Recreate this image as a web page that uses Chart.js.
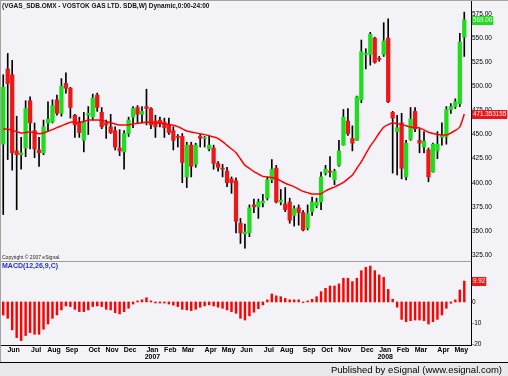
<!DOCTYPE html>
<html>
<head>
<meta charset="utf-8">
<script src="https://cdn.jsdelivr.net/npm/chart.js@4.4.1/dist/chart.umd.min.js"></script>
<style>
  html, body { margin: 0; padding: 0; background: #f3f2f6; }
  #wrap { position: relative; width: 508px; height: 376px; overflow: hidden; background: #f3f2f6; }
  #chart { position: absolute; left: 0; top: 0; }
  #frame { position: absolute; left: 0; top: 0; width: 507px; height: 361px; border-top: 1px solid #a4a4a4; border-left: 1px solid #a4a4a4; pointer-events: none; }
  .txt { position: absolute; font-family: "Liberation Sans", Arial, sans-serif; white-space: nowrap; }
  #title { left: 2px; top: 2px; font-size: 6.5px; font-weight: bold; color: #111; }
  #copy { left: 2px; top: 254px; font-size: 5px; color: #222; }
  #macdLbl { left: 2px; top: 262px; font-size: 7px; font-weight: bold; color: #2030e0; }
  #footer { position: absolute; left: 0; top: 362px; width: 508px; height: 14px; border-top: 1px solid #000; background: #e8e8ea; }
  #footer span { right: 6px; top: 1px; font-size: 9.5px; color: #000; }
</style>
</head>
<body>
<div id="wrap">
  <canvas id="chart" width="508" height="362"></canvas>
  <div id="frame"></div>
  <div class="txt" id="title">(VGAS_SDB.OMX - VOSTOK GAS LTD. SDB,W) Dynamic,0:00-24:00</div>
  <div class="txt" id="copy">Copyright © 2007 eSignal.</div>
  <div class="txt" id="macdLbl">MACD(12,26,9,C)</div>
  <div id="footer"><span class="txt">Published by eSignal (www.esignal.com)</span></div>
</div>
<script>
// ===== weekly candles, May 2006 - May 2008 =====
const open = [
  440, 518, 512, 433, 429, 436, 485, 454, 434, 431,
  462, 463, 486, 472, 503, 498, 470, 463, 444, 470,
  468, 491, 473, 462, 458, 454, 436, 432, 451, 468,
  478, 471, 479, 477, 464, 465, 463, 460, 454, 448,
  448, 406, 439, 419, 448, 446, 435, 436, 420, 415,
  412, 404, 402, 358, 347, 348, 377, 375, 379, 384,
  403, 415, 380, 378, 380, 366, 374, 369, 353, 370,
  376, 380, 410, 412, 403, 418, 439, 464, 446, 444,
  486, 533, 533, 550, 529, 533, 550, 473, 453, 462,
  406, 445, 474, 444, 437, 434, 411, 433, 447, 448,
  476, 479, 482, 551
];
const high = [
  512, 534, 527, 469, 447, 485, 489, 462, 447, 465,
  484, 486, 491, 508, 514, 499, 471, 468, 473, 479,
  492, 493, 478, 465, 471, 458, 455, 454, 468, 479,
  480, 479, 497, 478, 470, 468, 467, 467, 458, 450,
  451, 442, 442, 441, 450, 448, 448, 439, 422, 419,
  416, 406, 405, 363, 357, 377, 383, 383, 388, 406,
  424, 418, 393, 395, 384, 376, 377, 371, 377, 385,
  384, 411, 418, 427, 414, 444, 476, 477, 459, 490,
  548, 539, 556, 551, 531, 566, 570, 474, 470, 472,
  444, 478, 478, 456, 453, 436, 441, 453, 462, 479,
  482, 487, 555, 577
];
const low = [
  367, 424, 413, 372, 414, 427, 435, 426, 417, 429,
  453, 462, 470, 469, 493, 467, 447, 447, 432, 450,
  465, 474, 456, 446, 451, 434, 428, 414, 448, 457,
  462, 462, 460, 456, 447, 458, 447, 450, 434, 437,
  400, 395, 406, 416, 437, 437, 433, 414, 412, 406,
  396, 389, 348, 337, 332, 344, 369, 363, 375, 382,
  400, 379, 377, 370, 358, 355, 356, 350, 351, 366,
  374, 372, 408, 406, 398, 417, 439, 449, 433, 444,
  483, 518, 522, 524, 526, 531, 483, 410, 408, 404,
  403, 444, 453, 431, 431, 401, 411, 425, 439, 440,
  472, 477, 479, 531
];
const close = [
  499, 503, 431, 429, 431, 477, 462, 435, 431, 458,
  466, 480, 472, 500, 498, 478, 460, 452, 463, 472,
  488, 478, 458, 460, 452, 437, 433, 451, 465, 477,
  471, 474, 477, 460, 458, 462, 457, 452, 444, 447,
  421, 439, 417, 439, 446, 447, 439, 420, 416, 414,
  400, 400, 360, 348, 349, 374, 375, 380, 381, 403,
  414, 380, 382, 372, 361, 373, 369, 351, 368, 380,
  380, 406, 414, 411, 412, 433, 468, 451, 441, 489,
  536, 534, 554, 525, 528, 547, 484, 467, 457, 415,
  441, 466, 456, 441, 443, 406, 440, 440, 449, 476,
  479, 484, 546, 569
];
// moving average (red line)
const ma = [
  455.7, 455.5, 454.3, 452.9, 451.6, 452.1, 452.6, 451.9, 450.9, 451.6,
  453.4, 455.1, 457.1, 459.0, 460.9, 462.8, 462.8, 462.5, 463.6, 465.0,
  465.0, 465.0, 464.8, 463.5, 462.3, 460.9, 459.9, 459.9, 459.9, 460.8,
  461.7, 462.2, 462.8, 462.6, 462.1, 461.6, 461.2, 460.5, 459.6, 458.2,
  455.9, 453.6, 452.7, 451.7, 450.7, 449.9, 448.8, 447.5, 445.9, 442.6,
  438.7, 435.0, 431.2, 424.6, 418.1, 414.8, 411.5, 409.0, 406.6, 405.9,
  405.5, 404.3, 402.0, 399.4, 397.6, 395.7, 393.3, 391.0, 389.7, 388.4,
  388.3, 388.5, 391.5, 393.7, 395.5, 397.9, 400.4, 404.0, 408.0, 415.0,
  421.9, 430.0, 438.0, 444.5, 451.6, 457.6, 460.3, 461.9, 461.3, 460.4,
  459.0, 457.7, 457.3, 456.8, 454.8, 452.4, 451.0, 450.0, 449.5, 449.5,
  451.6, 454.2, 457.8, 471.353155
];
// MACD(12,26,9) histogram
const macd = [
  -6.2, -7.8, -13.3, -17, -18.4, -16, -14.6, -15.4, -15.4, -13,
  -10.5, -7.8, -6.2, -3.8, -1.9, -2.2, -3.5, -4.6, -4.6, -3.8,
  -2.2, -1.9, -2.2, -3.5, -3.8, -5.1, -5.7, -4.6, -3, -1,
  0.5, 1, 2, 0.5, -0.5, -0.5, -0.5, -1, -1.5, -2.2,
  -3.5, -3.8, -4.1, -3.5, -2.5, -1.9, -1.4, -1.9, -2.5, -3,
  -3.8, -4.6, -5.4, -7.8, -8.6, -6.6, -4.9, -3.2, -1.4, 1.0,
  3.8, 2.9, 2.5, 1.7, 1.0, 1.0, 1.0, -0.3, 0.5, 1.3,
  2.5, 4.9, 6.5, 7.6, 7.6, 8.6, 11.3, 11.3, 9.7, 11.3,
  14.9, 16.5, 17.1, 14.9, 12.9, 11.7, 6.0, 1.3, -2.5, -8.3,
  -9.4, -8.9, -8.6, -8.6, -8.9, -10.5, -9.4, -8.3, -6.2, -3.0,
  -0.6, 1.0, 5.7, 9.92
];

// ===== axis labels =====
const monthNames = ["Jun", "Jul", "Aug", "Sep", "Oct", "Nov", "Dec", "Jan", "Feb", "Mar", "Apr", "May",
                    "Jun", "Jul", "Aug", "Sep", "Oct", "Nov", "Dec", "Jan", "Feb", "Mar", "Apr", "May"];
const monthAt = [3, 8, 12, 16, 21, 25, 29, 34, 38, 42, 47, 51, 55, 60, 64, 69, 73, 77, 82, 86, 90, 94, 99, 103];
const yearNames = ["2007", "2008"];
const yearAt = [34, 86];
const priceTicks = [325, 350, 375, 400, 425, 450, 475, 500, 525, 550, 575];
const macdTicks = [-20, -10, 0, 10];

const N = close.length;

// one extra empty slot keeps a small gap before the price axis
const labels = [];
for (let i = 0; i <= N; i++) labels.push("");
monthAt.forEach((i, k) => { labels[i] = monthNames[k]; });
yearAt.forEach((i, k) => { labels[i] = [labels[i], yearNames[k]]; });

const GREEN = "#1fdc1f";
const RED = "#ec1818";

Chart.defaults.font.family = '"Liberation Sans", Arial, sans-serif';
Chart.defaults.color = "#000";

function noPad(scale) {
    scale.paddingTop = 0;
    scale.paddingBottom = 0;
    scale.paddingLeft = 0;
    scale.paddingRight = 0;
}

function tag(ctx, x, y, text, bg) {
    ctx.font = "6.3px " + Chart.defaults.font.family;
    const w = ctx.measureText(text).width + 2;
    ctx.fillStyle = bg;
    ctx.fillRect(x, Math.round(y) - 4, w, 9);
    ctx.fillStyle = "#fff";
    ctx.textBaseline = "middle";
    ctx.textAlign = "left";
    ctx.fillText(text, x + 1, Math.round(y) + 0.5);
}

const extras = {
    id: "extras",
    afterDraw(chart) {
        const ctx = chart.ctx;
        const a = chart.chartArea;
        const y = chart.scales.y;
        const y2 = chart.scales.y2;
        ctx.save();
        // separator between price and MACD panes
        ctx.strokeStyle = "#9c9c9c";
        ctx.lineWidth = 1;
        ctx.beginPath();
        ctx.moveTo(a.left, Math.round(y.bottom) + 0.5);
        ctx.lineTo(a.right, Math.round(y.bottom) + 0.5);
        ctx.stroke();
        // last value tags on the right axis
        tag(ctx, a.right + 1, y.getPixelForValue(close[N - 1]), close[N - 1].toFixed(2), GREEN);
        tag(ctx, a.right + 1, y.getPixelForValue(ma[N - 1]), String(ma[N - 1]), RED);
        tag(ctx, a.right + 1, y2.getPixelForValue(macd[N - 1]), macd[N - 1].toFixed(2), RED);
        ctx.restore();
    }
};

new Chart(document.getElementById("chart"), {
    type: "bar",
    data: {
        labels: labels,
        datasets: [
            {
                type: "line",
                data: ma,
                yAxisID: "y",
                borderColor: "#ff0000",
                borderWidth: 1.5,
                pointRadius: 0,
                tension: 0.2,
                order: 0
            },
            {
                data: open.map((o, i) => [o, close[i]]),
                yAxisID: "y",
                backgroundColor: open.map((o, i) => close[i] >= o ? GREEN : RED),
                barThickness: 3.6,
                minBarLength: 1,
                grouped: false,
                order: 1
            },
            {
                data: low.map((l, i) => [l, high[i]]),
                yAxisID: "y",
                backgroundColor: "#000",
                barThickness: 1,
                grouped: false,
                order: 2
            },
            {
                data: macd,
                yAxisID: "y2",
                backgroundColor: "#ff0000",
                barThickness: 1.8,
                grouped: false,
                order: 3
            }
        ]
    },
    options: {
        responsive: false,
        animation: false,
        devicePixelRatio: 1,
        layout: { padding: { top: 1, left: 1, right: 0, bottom: 0 } },
        plugins: { legend: { display: false }, tooltip: { enabled: false } },
        scales: {
            x: {
                grid: { display: false, drawTicks: false },
                border: { display: true, color: "#000" },
                ticks: {
                    autoSkip: false,
                    maxRotation: 0,
                    padding: 1,
                    labelOffset: -3,
                    font: { size: 7, weight: "bold", lineHeight: 1.1 }
                },
                afterFit(scale) { scale.height = 17; noPad(scale); }
            },
            y: {
                position: "right",
                stack: "panes",
                stackWeight: 260,
                min: 318.8,
                max: 588.5,
                grid: { display: false, drawTicks: false },
                border: { display: true, color: "#000" },
                ticks: { padding: 1, font: { size: 6.5 }, callback: v => v.toFixed(2) },
                afterBuildTicks(axis) { axis.ticks = priceTicks.map(v => ({ value: v })); },
                afterFit(scale) { scale.width = 37; noPad(scale); }
            },
            y2: {
                position: "right",
                stack: "panes",
                stackWeight: 84,
                min: -20.5,
                max: 19.5,
                grid: { display: false, drawTicks: false },
                border: { display: true, color: "#000" },
                ticks: { padding: 1, font: { size: 6.5 }, callback: v => String(v) },
                afterBuildTicks(axis) { axis.ticks = macdTicks.map(v => ({ value: v })); },
                afterFit(scale) { scale.width = 37; noPad(scale); }
            }
        }
    },
    plugins: [extras]
});
</script>
</body>
</html>
